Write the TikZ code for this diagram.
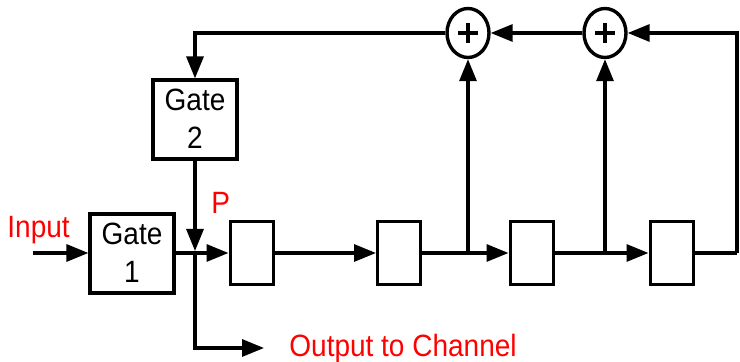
\documentclass[tikz,border=0pt]{standalone}
\usepackage{fontspec}
\setmainfont{Liberation Sans}
\usetikzlibrary{arrows.meta,shapes.geometric}
\tikzset{
  flow/.style={line width=1.6pt,line join=miter,-{Triangle[length=11pt,width=8.5pt]}},
  wire/.style={line width=1.6pt,line join=miter},
  gatebox/.style={draw,line width=1.6pt,fill=white,minimum width=#1,inner sep=0pt,minimum height=39.5pt,align=center},
  reg/.style={draw,line width=1.5pt,fill=white,minimum height=31.5pt,minimum width=#1,inner sep=0pt},
  adder/.style={draw,ellipse,line width=1.7pt,fill=white,minimum width=21pt,minimum height=24.5pt,inner sep=0pt},
  lbl/.style={font=\fontsize{14}{14}\selectfont,inner sep=0pt,yscale=1.1},
  red lbl/.style={lbl,text=red}
}
\begin{document}
\begin{tikzpicture}[x=0.5pt,y=-0.5pt]
\useasboundingbox (0,0) rectangle (740,362);
% nodes
\node[gatebox=42pt] (g1) at (132,253.5) {};
\node[gatebox=42pt] (g2) at (195,119.5) {};
\node[reg=21.5pt] (r1) at (251.5,253.5) {};
\node[reg=21.5pt] (r2) at (399,253.5) {};
\node[reg=21.5pt] (r3) at (531.5,253.5) {};
\node[reg=21.5pt] (r4) at (671.5,253.5) {};
\node[adder] (a1) at (468,33) {};
\node[adder] (a2) at (605,33) {};
\node[lbl] at (132,234) {Gate};
\node[lbl] at (132,272) {1};
\node[lbl] at (195,100) {Gate};
\node[lbl] at (195,138) {2};
\draw[line width=1.6pt] (468,23) -- (468,43) (458,33) -- (478,33);
\draw[line width=1.6pt] (605,23) -- (605,43) (595,33) -- (615,33);
\node[red lbl,anchor=base west] (inp) at (7,238) {Input};
\node[red lbl,anchor=base west] (pl) at (211,214) {P};
\node[red lbl,anchor=base west] (out) at (289,357) {Output to Channel};
% free ends and junctions
\coordinate (in) at (33,253);
\coordinate (j0) at (195,253);
\coordinate (j1) at (468,253);
\coordinate (j2) at (605,253);
\coordinate (outtip) at (264,348);
\coordinate (corner) at (737,253);
% connectors
\draw[flow] (in) -- (g1.west |- in);
\draw[flow] (g1.east |- j0) -- (r1.west |- j0);
\draw[flow] (g2.south) -- (195,251);
\draw[flow] (r1.east |- j0) -- (r2.west |- j0);
\draw[flow] (r2.east |- j0) -- (r3.west |- j0);
\draw[flow] (r3.east |- j0) -- (r4.west |- j0);
\draw[wire] (r4.east |- j0) -- (corner);
\draw[flow] (corner) -- (corner |- a2) -- (a2.east);
\draw[flow] (a2.west) -- (a1.east);
\draw[flow] (a1.west) -- (g2.north |- a1) -- (g2.north);
\draw[flow] (j1) -- (a1.south);
\draw[flow] (j2) -- (a2.south);
\draw[flow] (j0) -- (195,348) -- (outtip);
\end{tikzpicture}
\end{document}
